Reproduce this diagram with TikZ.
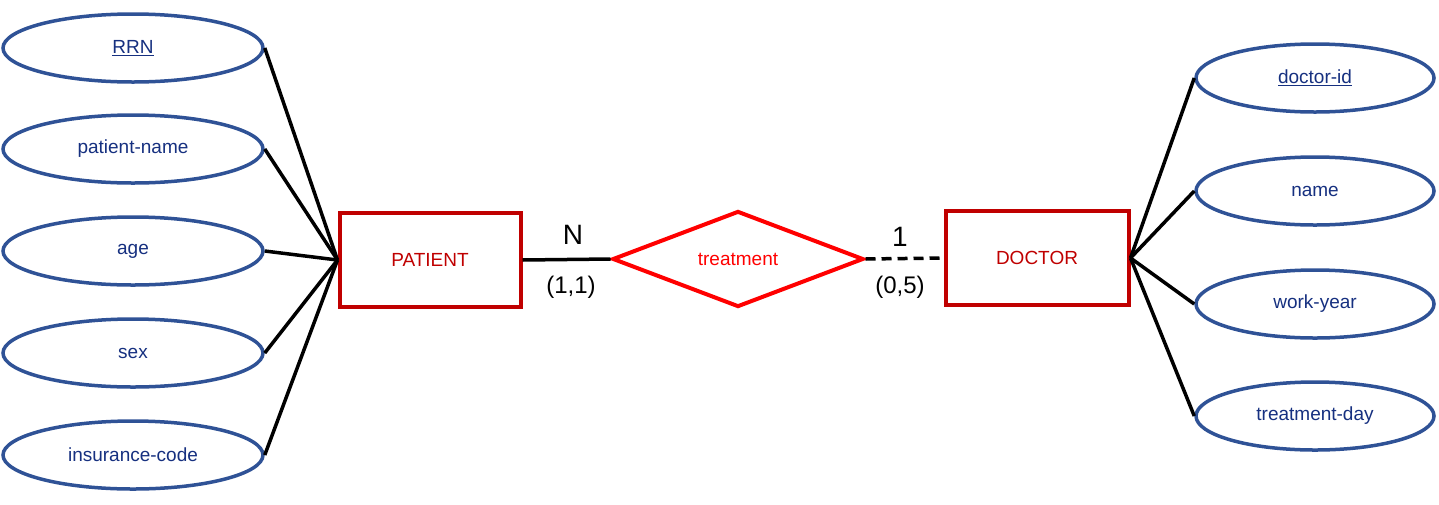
\documentclass[tikz,border=0pt]{standalone}
\usepackage{fontspec}
\setmainfont{Liberation Sans}
\usepackage{xcolor}
\usepackage{tikz}
\usetikzlibrary{shapes.geometric}
\definecolor{attblue}{RGB}{47,82,150}
\definecolor{atttext}{RGB}{22,48,128}
\definecolor{entred}{RGB}{192,0,0}
\definecolor{relred}{RGB}{255,0,0}
\tikzset{
  erattr/.style={ellipse, draw=attblue, line width=3.5pt, fill=white, inner sep=0pt,
    minimum height=68pt, text=atttext, font=\fontsize{19}{22}\selectfont},
  erleft/.style={erattr, minimum width=260pt},
  erright/.style={erattr, minimum width=238pt},
  erent/.style={rectangle, draw=entred, line width=4pt, fill=white, text=entred,
    minimum height=94pt, font=\fontsize{19}{22}\selectfont},
  errel/.style={diamond, draw=relred, line width=4pt, fill=white, inner sep=0pt,
    minimum width=251pt, minimum height=96pt, text=relred, font=\fontsize{19}{22}\selectfont},
  erlink/.style={line width=3.5pt, draw=black},
  erweak/.style={line width=3.5pt, draw=black, dash pattern=on 10pt off 6pt},
  ercard/.style={font=\fontsize{28}{30}\selectfont},
  erpart/.style={font=\fontsize{24}{26}\selectfont},
}
\begin{document}
\begin{tikzpicture}[x=1pt,y=-1pt]
\useasboundingbox (0,0) rectangle (1439,504);
% entities and relationship
\node[erent, minimum width=181pt] (patient) at (430,260) {PATIENT};
\node[erent, minimum width=183pt] (doctor) at (1037,258) {DOCTOR};
\node[errel] (treat) at (738,259) {treatment};
% patient attributes
\node[erleft] (rrn) at (133,48) {\underline{RRN}};
\node[erleft] (pname) at (133,149) {patient-name};
\node[erleft] (age) at (133,251) {age};
\node[erleft] (sex) at (133,353) {sex};
\node[erleft] (inscode) at (133,455) {insurance-code};
% doctor attributes
\node[erright] (docid) at (1315,78) {\underline{doctor-id}};
\node[erright] (dname) at (1315,191) {name};
\node[erright] (workyear) at (1315,304) {work-year};
\node[erright] (treatday) at (1315,416) {treatment-day};
% links
\foreach \a in {rrn,pname,age,sex,inscode}
  \draw[erlink] (\a.east) -- (patient.west);
\foreach \a in {docid,dname,workyear,treatday}
  \draw[erlink] (\a.west) -- (doctor.east);
\draw[erlink] (patient.east) -- (treat.west);
\draw[erweak] (treat.east) -- (doctor.west);
% cardinalities
\node[ercard] (cardn) at (573,235) {N};
\node[erpart] (partp) at (571,287) {(1,1)};
\node[ercard] (cardone) at (900,237) {1};
\node[erpart] (partd) at (900,287) {(0,5)};
\end{tikzpicture}
\end{document}
